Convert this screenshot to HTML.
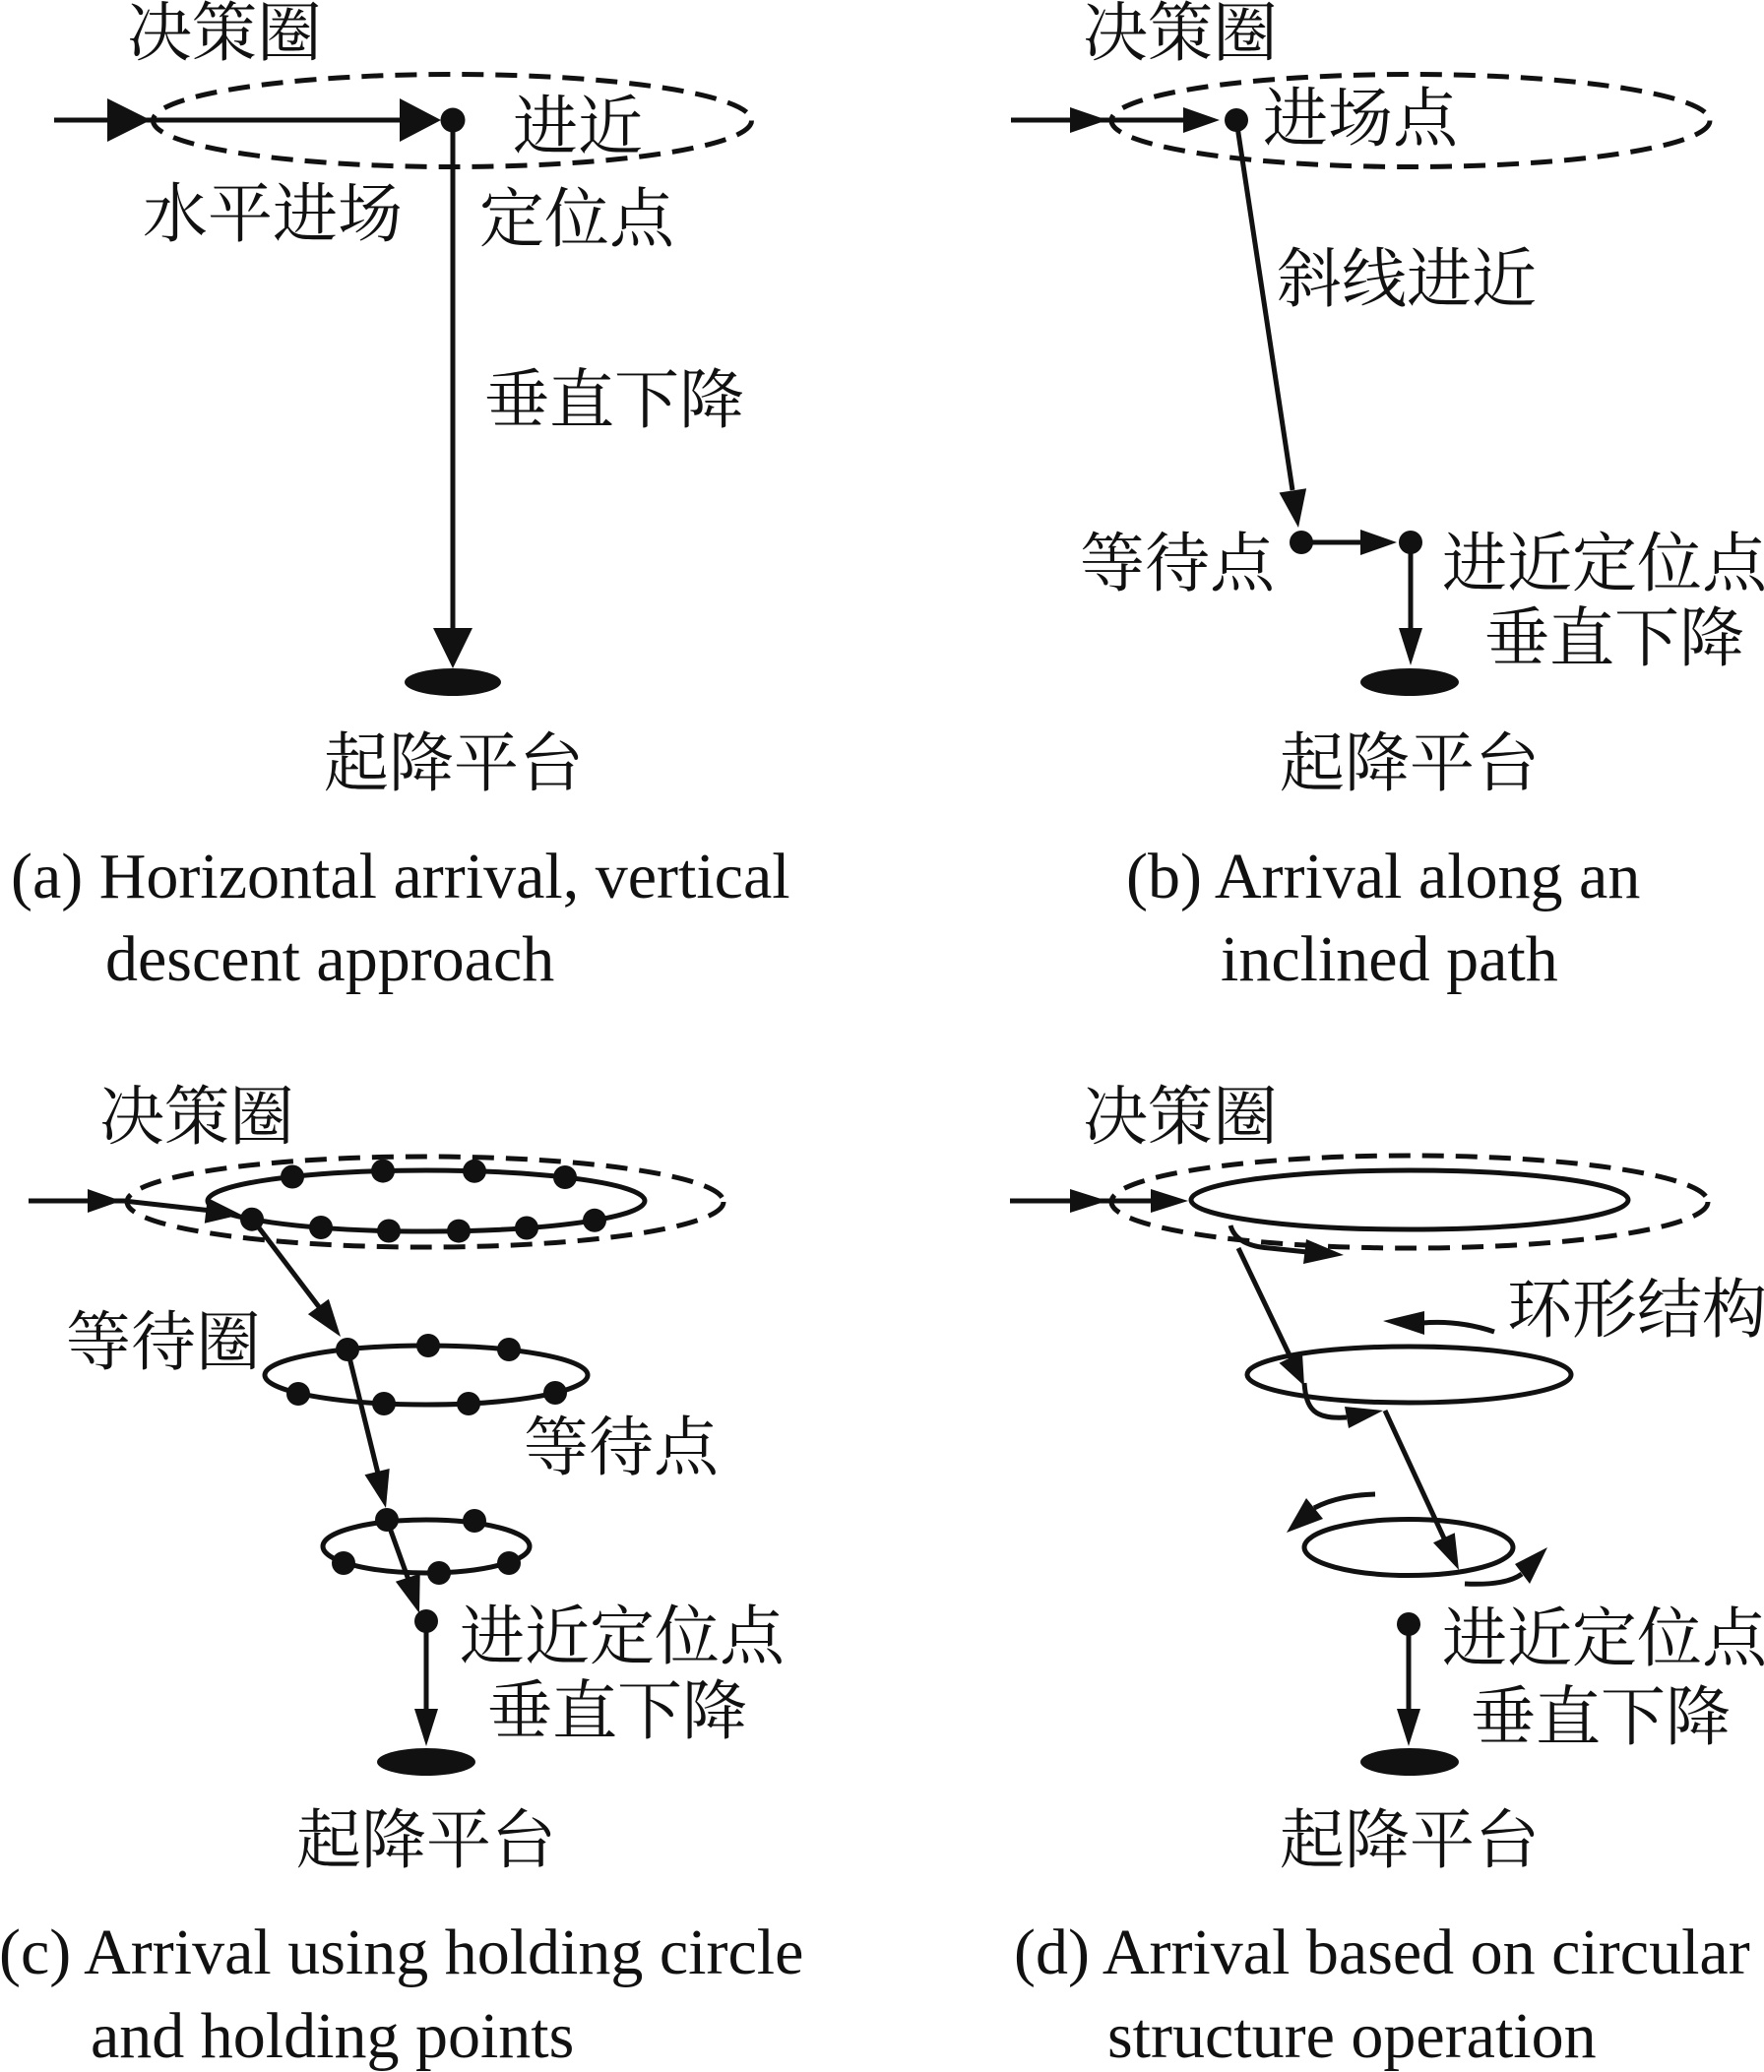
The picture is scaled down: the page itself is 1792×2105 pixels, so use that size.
<!DOCTYPE html>
<html><head><meta charset="utf-8"><style>
html,body{margin:0;padding:0;background:#fff;}
svg{display:block;}
.cj{font-family:"Liberation Serif","Noto Serif CJK SC","Noto Sans CJK SC",serif;font-size:66px;fill:#111;}
.en{font-family:"Liberation Serif",serif;font-size:66px;fill:#111;}
</style></head><body>
<svg width="1792" height="2105" viewBox="0 0 1792 2105" xmlns="http://www.w3.org/2000/svg">
<rect width="1792" height="2105" fill="#fff"/>
<g stroke="#111" stroke-width="5" fill="none">
  <!-- dashed ellipses -->
  <ellipse cx="459.5" cy="122.5" rx="304" ry="47" stroke-dasharray="22 12"/>
  <ellipse cx="1433" cy="122.5" rx="304" ry="47" stroke-dasharray="22 12"/>
  <ellipse cx="432" cy="1221" rx="303" ry="46" stroke-dasharray="22 12"/>
  <ellipse cx="1432" cy="1221" rx="303" ry="47" stroke-dasharray="22 12"/>
  <!-- (a) lines -->
  <line x1="55" y1="122" x2="420" y2="122"/>
  <line x1="460" y1="122" x2="460" y2="645"/>
  <!-- (b) lines -->
  <line x1="1027" y1="122" x2="1210" y2="122"/>
  <line x1="1256" y1="122" x2="1313" y2="498"/>
  <line x1="1322" y1="551" x2="1390" y2="551"/>
  <line x1="1433" y1="551" x2="1433" y2="645"/>
  <!-- (c) -->
  <ellipse cx="433" cy="1220" rx="222" ry="31"/>
  <ellipse cx="433" cy="1397" rx="164" ry="30"/>
  <ellipse cx="433" cy="1571" rx="105" ry="27"/>
  <polyline points="29,1220 126,1220 215,1230"/>
  <line x1="256" y1="1238" x2="325" y2="1329"/>
  <line x1="353" y1="1371" x2="384" y2="1497"/>
  <line x1="393" y1="1544" x2="415" y2="1605"/>
  <line x1="433" y1="1647" x2="433" y2="1742"/>
  <!-- (d) -->
  <ellipse cx="1432" cy="1219" rx="222" ry="30"/>
  <ellipse cx="1431.5" cy="1396.5" rx="164.5" ry="28.5"/>
  <ellipse cx="1431" cy="1572" rx="106" ry="28.5"/>
  <line x1="1026" y1="1220" x2="1175" y2="1220"/>
  <path d="M1250,1245 Q1256,1266 1290,1268 L1328,1272"/>
  <line x1="1258" y1="1268" x2="1312" y2="1381"/>
  <path d="M1325,1405 C1327,1432 1335,1442 1368,1440"/>
  <line x1="1407" y1="1433" x2="1468" y2="1565"/>
  <path d="M1518,1353 Q1482,1341 1445,1344"/>
  <path d="M1397,1518 Q1360,1519 1335,1532"/>
  <path d="M1488,1609 Q1530,1611 1546,1599"/>
  <line x1="1431" y1="1650" x2="1431" y2="1742"/>
</g>
<g fill="#111" stroke="none">
  <!-- (a) arrowheads, dot, platform -->
  <polygon points="109,100 109,144 153,122"/>
  <polygon points="406,100 406,144 448,122"/>
  <polygon points="440,638 480,638 460,679"/>
  <circle cx="460" cy="122" r="12.5"/>
  <ellipse cx="460" cy="693" rx="49" ry="14"/>
  <!-- (b) -->
  <polygon points="1087,109 1087,135 1125,122"/>
  <polygon points="1202,109 1202,135 1239,122"/>
  <polygon points="1327.1,496.3 1299.5,500.5 1319,536"/>
  <polygon points="1382,538 1382,564 1419,551"/>
  <polygon points="1421,638 1445,638 1433,676"/>
  <circle cx="1256" cy="122" r="12"/>
  <circle cx="1322" cy="551" r="12"/>
  <circle cx="1433" cy="551" r="12"/>
  <ellipse cx="1432" cy="693" rx="50" ry="14"/>
  <!-- (c) -->
  <polygon points="89,1208 89,1232 123,1220"/>
  <polygon points="207.8,1242.7 210.8,1216.9 245,1234"/>
  <polygon points="333.9,1319.7 312.9,1335.1 346,1358"/>
  <polygon points="395.7,1492 370.5,1498.2 392,1532"/>
  <polygon points="426.7,1598.8 401.9,1606.8 426,1639"/>
  <polygon points="421,1736 445,1736 433,1774"/>
  <circle cx="297" cy="1195.5" r="12"/>
  <circle cx="389" cy="1189.6" r="12"/>
  <circle cx="482" cy="1189.8" r="12"/>
  <circle cx="574" cy="1196" r="12"/>
  <circle cx="256" cy="1238.7" r="12"/>
  <circle cx="326" cy="1247" r="12"/>
  <circle cx="395" cy="1250.5" r="12"/>
  <circle cx="466" cy="1250.6" r="12"/>
  <circle cx="535" cy="1247.5" r="12"/>
  <circle cx="604" cy="1239.8" r="12"/>
  <circle cx="353" cy="1371" r="12"/>
  <circle cx="435" cy="1367" r="12"/>
  <circle cx="517" cy="1371" r="12"/>
  <circle cx="303" cy="1416" r="12"/>
  <circle cx="390" cy="1426" r="12"/>
  <circle cx="476" cy="1426" r="12"/>
  <circle cx="564" cy="1415" r="12"/>
  <circle cx="393" cy="1544" r="12"/>
  <circle cx="482" cy="1545" r="12"/>
  <circle cx="349" cy="1588" r="12"/>
  <circle cx="446" cy="1598" r="12"/>
  <circle cx="517" cy="1588" r="12"/>
  <circle cx="433" cy="1647" r="12"/>
  <ellipse cx="433" cy="1790" rx="50" ry="14"/>
  <!-- (d) -->
  <polygon points="1087,1208 1087,1232 1125,1220"/>
  <polygon points="1169,1208 1169,1232 1207,1220"/>
  <polygon points="1327,1259 1324,1284 1365,1275"/>
  <polygon points="1322.9,1373.5 1299.5,1384.7 1325,1408"/>
  <polygon points="1366,1429 1370,1451 1405,1433"/>
  <polygon points="1477.8,1557.3 1456,1567.3 1482,1595"/>
  <polygon points="1447,1332 1447,1356 1405,1342"/>
  <polygon points="1327,1522 1344,1543 1307,1557"/>
  <polygon points="1539,1589 1554,1609 1572,1572"/>
  <polygon points="1419,1736 1443,1736 1431,1774"/>
  <circle cx="1431" cy="1650" r="12"/>
  <ellipse cx="1432" cy="1790" rx="50" ry="14"/>
</g>
<!-- Chinese labels -->
<g class="cj">
  <text x="129" y="56">决策圈</text>
  <text x="521" y="151">进近</text>
  <text x="145" y="240">水平进场</text>
  <text x="487" y="245">定位点</text>
  <text x="492" y="429">垂直下降</text>
  <text x="329" y="798">起降平台</text>

  <text x="1100" y="56">决策圈</text>
  <text x="1283" y="143">进场点</text>
  <text x="1297" y="306">斜线进近</text>
  <text x="1097" y="595">等待点</text>
  <text x="1465" y="595">进近定位点</text>
  <text x="1508" y="671">垂直下降</text>
  <text x="1300" y="798">起降平台</text>

  <text x="101" y="1157">决策圈</text>
  <text x="67" y="1386">等待圈</text>
  <text x="532" y="1493">等待点</text>
  <text x="467" y="1685">进近定位点</text>
  <text x="495" y="1761">垂直下降</text>
  <text x="301" y="1892">起降平台</text>

  <text x="1100" y="1157">决策圈</text>
  <text x="1531" y="1353">环形结构</text>
  <text x="1465" y="1687">进近定位点</text>
  <text x="1494" y="1767">垂直下降</text>
  <text x="1300" y="1892">起降平台</text>
</g>
<!-- English captions -->
<g class="en">
  <text x="11" y="912">(a) Horizontal arrival, vertical</text>
  <text x="107" y="996">descent approach</text>
  <text x="1144" y="912">(b) Arrival along an</text>
  <text x="1240" y="996">inclined path</text>
  <text x="-1" y="2005">(c) Arrival using holding circle</text>
  <text x="92" y="2090">and holding points</text>
  <text x="1030" y="2005">(d) Arrival based on circular</text>
  <text x="1125" y="2090">structure operation</text>
</g>
</svg>
</body></html>
